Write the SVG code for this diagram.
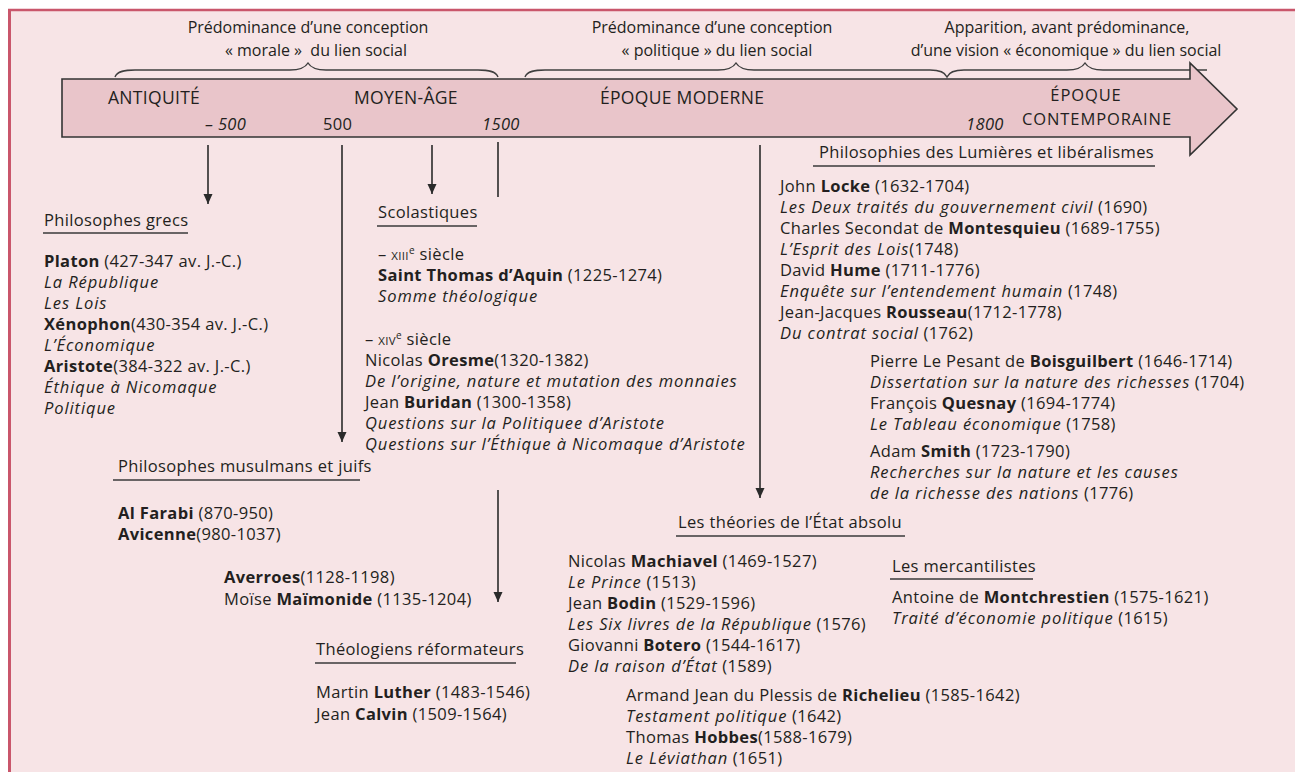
<svg xmlns="http://www.w3.org/2000/svg" width="1295" height="772" viewBox="0 0 1295 772">
<defs>
<style>
.t{font-family:"Open Sans","Noto Sans",sans-serif;font-size:16.5px;letter-spacing:0.35px;fill:#231f20}
.hd{font-size:16px;letter-spacing:0;text-anchor:middle}
.tl{font-size:17.5px;letter-spacing:0.3px}
.tc{font-size:16.5px;letter-spacing:0.9px}
.b{font-weight:700}
.i{font-style:italic;letter-spacing:0.9px}
.u{stroke:#3a3a3a;stroke-width:1.6}
.ln{stroke:#2a2a2a;stroke-width:1.6;fill:none}
.br{stroke:#3f3f3f;stroke-width:1.4;fill:none}
.sc{font-size:11.5px}
.sup{font-size:10px}
</style>
<marker id="ah" markerWidth="10" markerHeight="10" refX="10" refY="5" orient="auto" markerUnits="userSpaceOnUse">
<path d="M0,0.5 L10,5 L0,9.5 z" fill="#2a2a2a"/>
</marker>
</defs>
<rect x="0" y="0" width="1295" height="772" fill="#ffffff"/>
<rect x="9" y="10" width="1286" height="762" fill="#f7e4e6"/>
<line x1="8" y1="10" x2="1295" y2="10" stroke="#c9566b" stroke-width="2.5"/>
<line x1="9.5" y1="10" x2="9.5" y2="772" stroke="#c9566b" stroke-width="3"/>

<g id="periods">
<text class="t hd" x="308" y="33">Prédominance d’une conception</text>
<text class="t hd" x="316" y="56" xml:space="preserve">« morale »  du lien social</text>
<text class="t hd" x="712" y="33">Prédominance d’une conception</text>
<text class="t hd" x="717" y="56">« politique » du lien social</text>
<text class="t hd" x="1067" y="33">Apparition, avant prédominance,</text>
<text class="t hd" x="1066" y="56">d’une vision « économique » du lien social</text>
<path class="br" d="M115,77 C117,71 125,70 135,70 L290,70 C300,70 305,68 308,63 C311,68 316,70 326,70 L478,70 C488,70 496,71 498,77"/>
<path class="br" d="M525,77 C527,71 535,70 545,70 L718,70 C728,70 733,68 736,63 C739,68 744,70 754,70 L930,70 C940,70 945,72 947,77 C949,72 954,70 964,70 L1067,70 C1077,70 1082,68 1085,63 C1088,68 1093,70 1103,70 L1207,70"/>
</g>

<g id="timeline">
<polygon points="62,79 1190,79 1190,63 1237,109 1190,155 1190,137 62,137" fill="#e9c5ca" stroke="#333" stroke-width="1.6"/>
<text class="t tl" x="108" y="104">ANTIQUITÉ</text>
<text class="t tl" x="354" y="104">MOYEN-ÂGE</text>
<text class="t tl" x="600" y="104">ÉPOQUE MODERNE</text>
<text class="t tc" x="1086" y="101" text-anchor="middle">ÉPOQUE</text>
<text class="t tc" x="1097" y="125" text-anchor="middle">CONTEMPORAINE</text>
<text class="t" x="205" y="130" font-size="17" font-style="italic">– 500</text>
<text class="t" x="323" y="130" font-size="17">500</text>
<text class="t" x="482" y="130" font-size="17" font-style="italic">1500</text>
<text class="t" x="966" y="130" font-size="17" font-style="italic">1800</text>
</g>

<g id="connectors">
<line class="ln" x1="208" y1="145" x2="208" y2="204" marker-end="url(#ah)"/>
<line class="ln" x1="342" y1="145" x2="342" y2="442" marker-end="url(#ah)"/>
<line class="ln" x1="432" y1="145" x2="432" y2="194" marker-end="url(#ah)"/>
<line class="ln" x1="498" y1="142" x2="498" y2="197"/>
<line class="ln" x1="498" y1="490" x2="498" y2="602" marker-end="url(#ah)"/>
<line class="ln" x1="760" y1="145" x2="760" y2="498" marker-end="url(#ah)"/>
</g>

<g id="grecs">
<text class="t" x="44" y="226">Philosophes grecs</text>
<line class="u" x1="43" y1="233" x2="188" y2="233"/>
<text class="t" x="44" y="267"><tspan class="b">Platon</tspan> (427-347 av. J.-C.)</text>
<text class="t i" x="44" y="288">La République</text>
<text class="t i" x="44" y="309">Les Lois</text>
<text class="t" x="44" y="330"><tspan class="b">Xénophon</tspan>(430-354 av. J.-C.)</text>
<text class="t i" x="44" y="351">L’Économique</text>
<text class="t" x="44" y="372"><tspan class="b">Aristote</tspan>(384-322 av. J.-C.)</text>
<text class="t i" x="44" y="393">Éthique à Nicomaque</text>
<text class="t i" x="44" y="414">Politique</text>
</g>

<g id="scolastiques">
<text class="t" x="378" y="218">Scolastiques</text>
<line class="u" x1="377" y1="226" x2="477" y2="226"/>
<text class="t" x="378" y="260">– <tspan class="sc">XIII</tspan><tspan class="sup" dy="-6">e</tspan><tspan dy="6"> siècle</tspan></text>
<text class="t" x="378" y="281"><tspan class="b">Saint Thomas d’Aquin</tspan> (1225-1274)</text>
<text class="t i" x="378" y="302">Somme théologique</text>
<text class="t" x="365" y="345">– <tspan class="sc">XIV</tspan><tspan class="sup" dy="-6">e</tspan><tspan dy="6"> siècle</tspan></text>
<text class="t" x="365" y="366">Nicolas <tspan class="b">Oresme</tspan>(1320-1382)</text>
<text class="t i" x="365" y="387">De l’origine, nature et mutation des monnaies</text>
<text class="t" x="365" y="408">Jean <tspan class="b">Buridan</tspan> (1300-1358)</text>
<text class="t i" x="365" y="429">Questions sur la Politiquee d’Aristote</text>
<text class="t i" x="365" y="450">Questions sur l’Éthique à Nicomaque d’Aristote</text>
</g>

<g id="musulmans">
<text class="t" x="118" y="472">Philosophes musulmans et juifs</text>
<line class="u" x1="113" y1="480" x2="360" y2="480"/>
<text class="t" x="118" y="519"><tspan class="b">Al Farabi</tspan> (870-950)</text>
<text class="t" x="118" y="540"><tspan class="b">Avicenne</tspan>(980-1037)</text>
<text class="t" x="224" y="583"><tspan class="b">Averroes</tspan>(1128-1198)</text>
<text class="t" x="224" y="605">Moïse <tspan class="b">Maïmonide</tspan> (1135-1204)</text>
</g>

<g id="reformateurs">
<text class="t" x="316" y="655">Théologiens réformateurs</text>
<line class="u" x1="315" y1="663" x2="516" y2="663"/>
<text class="t" x="316" y="698">Martin <tspan class="b">Luther</tspan> (1483-1546)</text>
<text class="t" x="316" y="720">Jean <tspan class="b">Calvin</tspan> (1509-1564)</text>
</g>

<g id="lumieres">
<text class="t" x="819" y="158">Philosophies des Lumières et libéralismes</text>
<line class="u" x1="813" y1="166" x2="1155" y2="166"/>
<text class="t" x="780" y="192">John <tspan class="b">Locke</tspan> (1632-1704)</text>
<text class="t" x="780" y="213"><tspan class="i">Les Deux traités du gouvernement civil</tspan> (1690)</text>
<text class="t" x="780" y="234">Charles Secondat de <tspan class="b">Montesquieu</tspan> (1689-1755)</text>
<text class="t" x="780" y="255"><tspan class="i">L’Esprit des Lois</tspan>(1748)</text>
<text class="t" x="780" y="276">David <tspan class="b">Hume</tspan> (1711-1776)</text>
<text class="t" x="780" y="297"><tspan class="i">Enquête sur l’entendement humain</tspan> (1748)</text>
<text class="t" x="780" y="318">Jean-Jacques <tspan class="b">Rousseau</tspan>(1712-1778)</text>
<text class="t" x="780" y="339"><tspan class="i">Du contrat social</tspan> (1762)</text>
<text class="t" x="870" y="367">Pierre Le Pesant de <tspan class="b">Boisguilbert</tspan> (1646-1714)</text>
<text class="t" x="870" y="388"><tspan class="i">Dissertation sur la nature des richesses</tspan> (1704)</text>
<text class="t" x="870" y="409">François <tspan class="b">Quesnay</tspan> (1694-1774)</text>
<text class="t" x="870" y="430"><tspan class="i">Le Tableau économique</tspan> (1758)</text>
<text class="t" x="870" y="457">Adam <tspan class="b">Smith</tspan> (1723-1790)</text>
<text class="t i" x="870" y="478">Recherches sur la nature et les causes</text>
<text class="t" x="870" y="499"><tspan class="i">de la richesse des nations</tspan> (1776)</text>
</g>

<g id="etat-absolu">
<text class="t" x="678" y="528">Les théories de l’État absolu</text>
<line class="u" x1="676" y1="536" x2="905" y2="536"/>
<text class="t" x="568" y="567">Nicolas <tspan class="b">Machiavel</tspan> (1469-1527)</text>
<text class="t" x="568" y="588"><tspan class="i">Le Prince</tspan> (1513)</text>
<text class="t" x="568" y="609">Jean <tspan class="b">Bodin</tspan> (1529-1596)</text>
<text class="t" x="568" y="630"><tspan class="i">Les Six livres de la République</tspan> (1576)</text>
<text class="t" x="568" y="651">Giovanni <tspan class="b">Botero</tspan> (1544-1617)</text>
<text class="t" x="568" y="672"><tspan class="i">De la raison d’État</tspan> (1589)</text>
<text class="t" x="626" y="701">Armand Jean du Plessis de <tspan class="b">Richelieu</tspan> (1585-1642)</text>
<text class="t" x="626" y="722"><tspan class="i">Testament politique</tspan> (1642)</text>
<text class="t" x="626" y="743">Thomas <tspan class="b">Hobbes</tspan>(1588-1679)</text>
<text class="t" x="626" y="764"><tspan class="i">Le Léviathan</tspan> (1651)</text>
</g>

<g id="mercantilistes">
<text class="t" x="892" y="572">Les mercantilistes</text>
<line class="u" x1="890" y1="579" x2="1033" y2="579"/>
<text class="t" x="892" y="603">Antoine de <tspan class="b">Montchrestien</tspan> (1575-1621)</text>
<text class="t" x="892" y="624"><tspan class="i">Traité d’économie politique</tspan> (1615)</text>
</g>
</svg>
